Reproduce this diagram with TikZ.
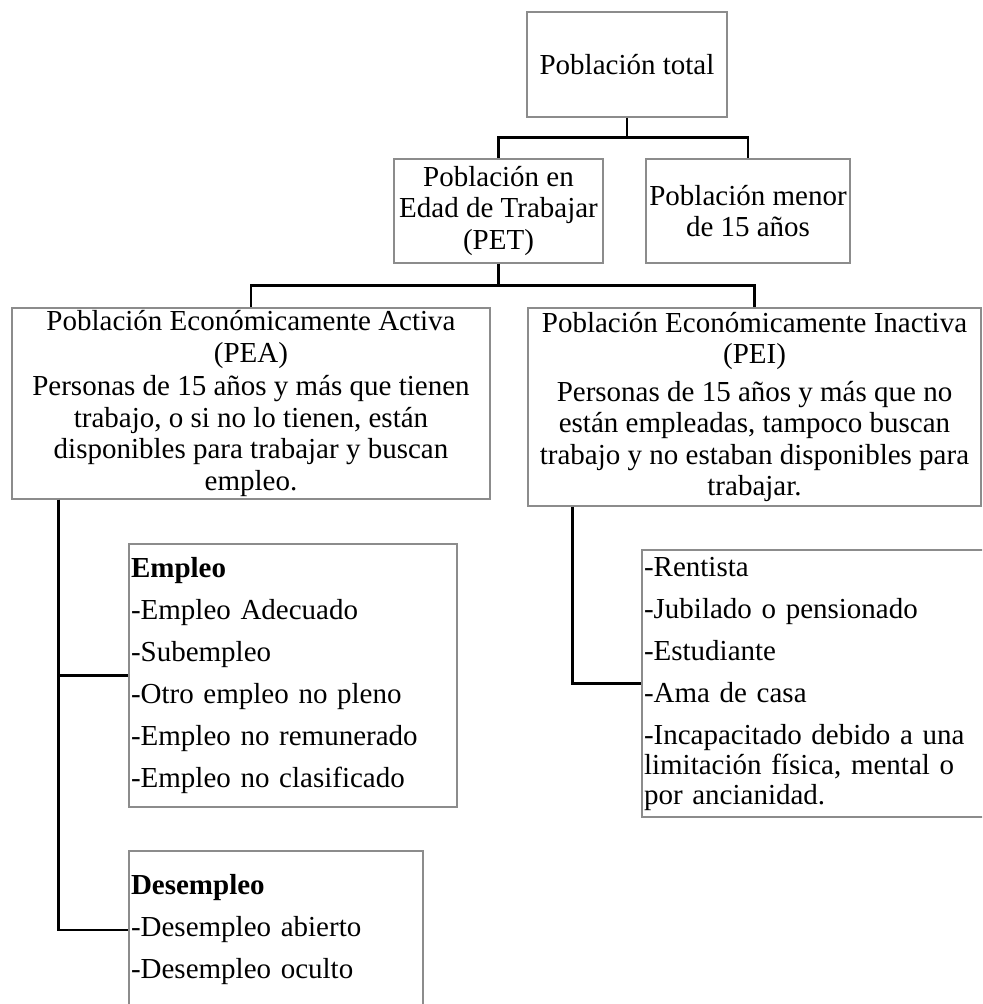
\documentclass[tikz,border=0pt]{standalone}
\usepackage{fontspec}
\setmainfont{Liberation Serif}
\usetikzlibrary{positioning, calc}

\begin{document}
\begin{tikzpicture}[x=0.5pt, y=-0.5pt,
		box/.style={draw=black!45, line width=0.6pt, rectangle, inner xsep=1pt, inner ysep=0pt, align=center, font=\fontsize{14.5}{15.75}\selectfont},
		listbox/.style={box, align=left, font=\fontsize{14.5}{21}\selectfont},
		link/.style={draw=black, line width=1.3pt} ]
		\useasboundingbox (0,0) rectangle (982,1004);
		\clip (0,0) rectangle (982,1004);
		\node[box, minimum width=100pt, minimum height=52.5pt] (total) at (627,64.5) {Población total};
		\node[box, minimum width=104.5pt, minimum height=52pt] (pet) at (498.5,211) {Población en\\Edad de Trabajar\\(PET)};
		\node[box, minimum width=102pt, minimum height=52pt] (menor) at (748,211) {Población menor\\de 15 años};
		\node[box, minimum width=239pt, minimum height=95.5pt] (pea) at (251,403.5) {Población Económicamente Activa\\(PEA)\\[1pt]Personas de 15 años y más que tienen\\trabajo, o si no lo tienen, están\\disponibles para trabajar y buscan\\empleo.};
		\node[box, minimum width=226.5pt, minimum height=99pt] (pei) at (754.5,407) {Población Económicamente Inactiva\\(PEI)\\[3pt]Personas de 15 años y más que no\\están empleadas, tampoco buscan\\trabajo y no estaban disponibles para\\trabajar.};
		\node[listbox, text width=162pt, minimum height=131.5pt] (empleo) at (293,675.5) {\textbf{Empleo}\\-Empleo Adecuado\\-Subempleo\\-Otro empleo no pleno\\-Empleo no remunerado\\-Empleo no clasificado};
		\node[listbox, text width=145pt, minimum height=79pt] (desempleo) at (276,930) {\textbf{Desempleo}\\-Desempleo abierto\\-Desempleo oculto};
		\node[listbox, text width=178pt, minimum height=133.5pt] (inact) at (822,683.5) {-Rentista\\-Jubilado o pensionado\\-Estudiante\\-Ama de casa\\\makebox[168pt][s]{-Incapacitado debido a una}\\[-6pt]\makebox[168pt][s]{limitación física, mental o}\\[-6pt]por ancianidad.};
		% connectors
		\draw[link] (total.south) -- ++(0,20) coordinate (total-split) -| (pet.north);
		\draw[link] (total-split) -| (menor.north);
		\draw[link] (pet.south) -- ++(0,22) coordinate (pet-split) -| (pea.north);
		\draw[link] (pet-split) -| (pei.north);
		\coordinate (pea-tap) at ($(pea.south west)+(47,0)$);
		\draw[link] (pea-tap) |- (empleo.west);
		\draw[link] (pea-tap) |- (desempleo.west);
		\coordinate (pei-tap) at ($(pei.south west)+(45,0)$);
		\draw[link] (pei-tap) |- (inact.west);
	\end{tikzpicture}
\end{document}
